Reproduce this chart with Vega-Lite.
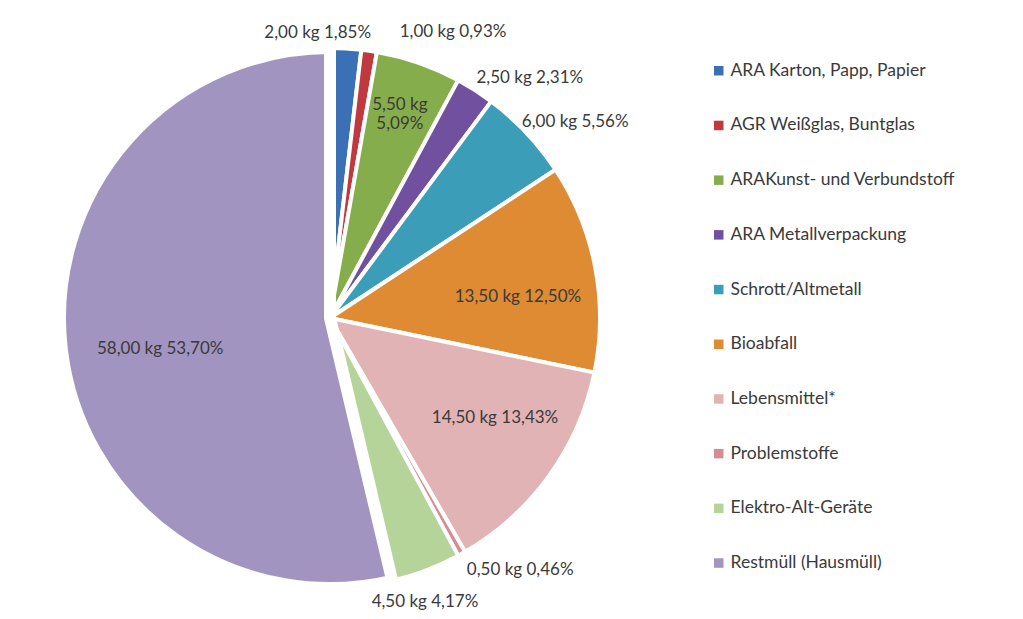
{
  "$schema": "https://vega.github.io/schema/vega-lite/v6.json",
  "width": 660,
  "height": 602,
  "autosize": {"type": "none"},
  "padding": {"left": 0, "top": 17, "right": 363, "bottom": 0},
  "background": "white",
  "config": {"view": {"stroke": null}},
  "data": {
    "values": [
      {"idx": 1, "cat": "ARA Karton, Papp, Papier", "kg": 2.0, "label": "2,00 kg 1,85%"},
      {"idx": 2, "cat": "AGR Weißglas, Buntglas", "kg": 1.0, "label": "1,00 kg 0,93%"},
      {"idx": 3, "cat": "ARAKunst- und Verbundstoff", "kg": 5.5, "label": "5,50 kg\n5,09%"},
      {"idx": 4, "cat": "ARA Metallverpackung", "kg": 2.5, "label": "2,50 kg 2,31%"},
      {"idx": 5, "cat": "Schrott/Altmetall", "kg": 6.0, "label": "6,00 kg 5,56%"},
      {"idx": 6, "cat": "Bioabfall", "kg": 13.5, "label": "13,50 kg 12,50%"},
      {"idx": 7, "cat": "Lebensmittel*", "kg": 14.5, "label": "14,50 kg 13,43%"},
      {"idx": 8, "cat": "Problemstoffe", "kg": 0.5, "label": "0,50 kg 0,46%"},
      {"idx": 9, "cat": "Elektro-Alt-Geräte", "kg": 4.5, "label": "4,50 kg 4,17%"},
      {"idx": 10, "cat": "Restmüll (Hausmüll)", "kg": 58.0, "label": "58,00 kg 53,70%"}
    ]
  },
  "encoding": {
    "theta": {"field": "kg", "type": "quantitative", "stack": true},
    "order": {"field": "idx", "type": "quantitative"}
  },
  "layer": [
    {
      "mark": {"type": "arc", "outerRadius": 270, "stroke": "white"},
      "encoding": {
        "strokeWidth": {"condition": {"test": "datum.idx === 10", "value": 12}, "value": 4},
        "color": {
          "field": "cat",
          "type": "nominal",
          "scale": {
            "domain": ["ARA Karton, Papp, Papier", "AGR Weißglas, Buntglas", "ARAKunst- und Verbundstoff", "ARA Metallverpackung", "Schrott/Altmetall", "Bioabfall", "Lebensmittel*", "Problemstoffe", "Elektro-Alt-Geräte", "Restmüll (Hausmüll)"],
            "range": ["#3b6fb6", "#c0393f", "#86ad4b", "#7150a0", "#3b9db8", "#de8b34", "#e2b3b5", "#d28e93", "#b5d49a", "#a294c0"]
          },
          "legend": {
            "title": null,
            "orient": "none",
            "legendX": 710,
            "legendY": 45,
            "symbolType": "square",
            "symbolSize": 90,
            "symbolStrokeWidth": 0,
            "labelFont": "Lato",
            "labelFontSize": 17.5,
            "labelColor": "#3a3a3a",
            "labelOffset": 3,
            "rowPadding": 35.7,
            "labelLimit": 400
          }
        }
      }
    },
    {
      "mark": {"type": "text", "radius": 287, "dx": -29, "dy": 2, "font": "Lato", "fontSize": 17, "fill": "#3a3a3a"},
      "encoding": {"detail": {"field": "cat"}, "text": {"condition": {"test": "datum.idx === 1", "field": "label"}, "value": ""}}
    },
    {
      "mark": {"type": "text", "radius": 290, "dx": 81, "dy": 1, "font": "Lato", "fontSize": 17, "fill": "#3a3a3a"},
      "encoding": {"detail": {"field": "cat"}, "text": {"condition": {"test": "datum.idx === 2", "field": "label"}, "value": ""}}
    },
    {
      "mark": {"type": "text", "radius": 228, "dx": -5, "dy": 2, "lineBreak": "\n", "font": "Lato", "fontSize": 17, "fill": "#3a3a3a"},
      "encoding": {"detail": {"field": "cat"}, "text": {"condition": {"test": "datum.idx === 3", "field": "label"}, "value": ""}}
    },
    {
      "mark": {"type": "text", "radius": 290, "dx": 44, "dy": 5, "font": "Lato", "fontSize": 17, "fill": "#3a3a3a"},
      "encoding": {"detail": {"field": "cat"}, "text": {"condition": {"test": "datum.idx === 4", "field": "label"}, "value": ""}}
    },
    {
      "mark": {"type": "text", "radius": 300, "dx": 27, "dy": 10, "font": "Lato", "fontSize": 17, "fill": "#3a3a3a"},
      "encoding": {"detail": {"field": "cat"}, "text": {"condition": {"test": "datum.idx === 5", "field": "label"}, "value": ""}}
    },
    {
      "mark": {"type": "text", "radius": 172, "dx": 19, "dy": 11, "font": "Lato", "fontSize": 17, "fill": "#3a3a3a"},
      "encoding": {"detail": {"field": "cat"}, "text": {"condition": {"test": "datum.idx === 6", "field": "label"}, "value": ""}}
    },
    {
      "mark": {"type": "text", "radius": 190, "dx": 11, "dy": -11, "font": "Lato", "fontSize": 17, "fill": "#3a3a3a"},
      "encoding": {"detail": {"field": "cat"}, "text": {"condition": {"test": "datum.idx === 7", "field": "label"}, "value": ""}}
    },
    {
      "mark": {"type": "text", "radius": 300, "dx": 44, "dy": -10, "font": "Lato", "fontSize": 17, "fill": "#3a3a3a"},
      "encoding": {"detail": {"field": "cat"}, "text": {"condition": {"test": "datum.idx === 8", "field": "label"}, "value": ""}}
    },
    {
      "mark": {"type": "text", "radius": 298, "dx": -11, "dy": 5, "font": "Lato", "fontSize": 17, "fill": "#3a3a3a"},
      "encoding": {"detail": {"field": "cat"}, "text": {"condition": {"test": "datum.idx === 9", "field": "label"}, "value": ""}}
    },
    {
      "mark": {"type": "text", "radius": 172, "dx": 1, "dy": 11, "font": "Lato", "fontSize": 17, "fill": "#3a3a3a"},
      "encoding": {"detail": {"field": "cat"}, "text": {"condition": {"test": "datum.idx === 10", "field": "label"}, "value": ""}}
    }
  ]
}
